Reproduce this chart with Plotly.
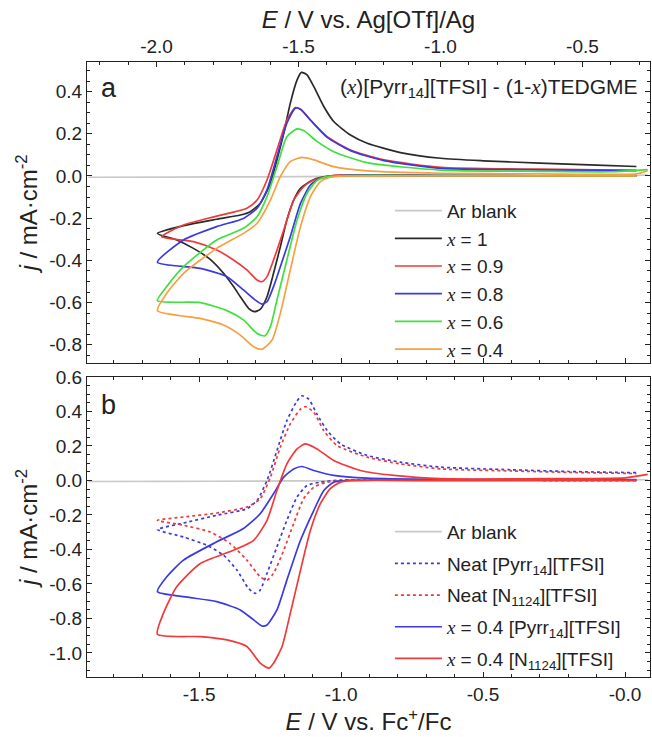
import plotly.graph_objects as go

# ---------------- data (E vs Fc+/Fc in V, j in mA cm^-2) ----------------
# Panel a: (x)[Pyrr14][TFSI] - (1-x)TEDGME
E_blank = [-1.89, -1.60, -1.30, -1.00, -0.70, -0.40, -0.10, 0.08]
j_blank = [-0.006, -0.005, -0.004, -0.002, -0.001, 0.000, 0.002, 0.004]

E_x10 = [0.04, -0.30, -0.649, -1.026, -1.085, -1.120, -1.143, -1.167, -1.191, -1.214, -1.238,
         -1.261, -1.285, -1.305, -1.326, -1.355, -1.379, -1.414, -1.461, -1.520, -1.579, -1.647,
         -1.555, -1.438, -1.355, -1.320, -1.285, -1.249, -1.226, -1.202, -1.179, -1.155, -1.140,
         -1.120, -1.096, -1.061, -1.026, -0.967, -0.908, -0.791, -0.649, -0.50, -0.30, -0.10, 0.04]
j_x10 = [0.0, 0.001, 0.002, 0.002, -0.011, -0.035, -0.058, -0.114, -0.209, -0.335, -0.461,
         -0.572, -0.632, -0.643, -0.627, -0.572, -0.524, -0.461, -0.395, -0.343, -0.303, -0.272,
         -0.235, -0.205, -0.185, -0.169, -0.130, -0.035, 0.076, 0.202, 0.344, 0.455, 0.491,
         0.479, 0.423, 0.329, 0.258, 0.194, 0.155, 0.111, 0.084, 0.072, 0.061, 0.051, 0.045]

E_x09 = [0.04, -0.30, -0.649, -1.026, -1.096, -1.132, -1.167, -1.202, -1.238, -1.261, -1.279,
         -1.296, -1.332, -1.379, -1.438, -1.520, -1.632,
         -1.555, -1.438, -1.332, -1.296, -1.261, -1.226, -1.191, -1.161, -1.143, -1.108, -1.049,
         -0.967, -0.849, -0.649, -0.30, 0.04]
j_x09 = [0.0, 0.001, 0.002, 0.002, -0.019, -0.051, -0.114, -0.256, -0.398, -0.477, -0.501,
         -0.493, -0.445, -0.398, -0.351, -0.311, -0.288,
         -0.232, -0.190, -0.153, -0.114, -0.019, 0.123, 0.265, 0.324, 0.316, 0.265, 0.186,
         0.123, 0.076, 0.041, 0.032, 0.027]

E_x08 = [0.04, -0.30, -0.649, -1.002, -1.073, -1.108, -1.143, -1.179, -1.214, -1.238, -1.261,
         -1.279, -1.302, -1.344, -1.402, -1.496, -1.647,
         -1.555, -1.438, -1.344, -1.296, -1.261, -1.226, -1.191, -1.161, -1.143, -1.108, -1.049,
         -0.967, -0.849, -0.649, -0.30, 0.04]
j_x08 = [0.0, 0.001, 0.002, 0.002, -0.011, -0.043, -0.130, -0.288, -0.430, -0.524, -0.596,
         -0.607, -0.588, -0.540, -0.477, -0.438, -0.409,
         -0.303, -0.240, -0.201, -0.153, -0.066, 0.092, 0.250, 0.321, 0.316, 0.265, 0.183,
         0.120, 0.073, 0.036, 0.029, 0.025]

E_x06 = [0.04, -0.30, -0.649, -0.979, -1.049, -1.085, -1.120, -1.155, -1.191, -1.226, -1.249,
         -1.269, -1.296, -1.344, -1.402, -1.496, -1.647,
         -1.614, -1.555, -1.438, -1.344, -1.296, -1.261, -1.226, -1.191, -1.155, -1.132, -1.085,
         -1.026, -0.908, -0.649, -0.30, -0.05, 0.08]
j_x06 = [0.0, 0.001, 0.002, 0.002, -0.003, -0.022, -0.082, -0.209, -0.398, -0.588, -0.714,
         -0.758, -0.746, -0.682, -0.638, -0.600, -0.591,
         -0.524, -0.430, -0.303, -0.248, -0.193, -0.098, 0.044, 0.186, 0.223, 0.215, 0.164,
         0.115, 0.063, 0.028, 0.022, 0.020, 0.030]

E_x04 = [0.04, -0.30, -0.649, -0.979, -1.038, -1.073, -1.108, -1.143, -1.179, -1.214, -1.243,
         -1.279, -1.308, -1.355, -1.414, -1.496, -1.647,
         -1.614, -1.555, -1.438, -1.344, -1.296, -1.249, -1.214, -1.179, -1.138, -1.096, -1.026,
         -0.908, -0.649, -0.30, 0.04, 0.08]
j_x04 = [0.0, 0.0, 0.0, 0.0, -0.006, -0.027, -0.098, -0.240, -0.445, -0.651, -0.777,
         -0.821, -0.809, -0.754, -0.706, -0.675, -0.638,
         -0.556, -0.461, -0.343, -0.272, -0.224, -0.114, -0.003, 0.068, 0.088, 0.076, 0.044,
         0.024, 0.013, 0.010, 0.010, 0.025]

# Panel b: neat ILs and x = 0.4 mixtures
E_neat_pyr = [0.04, -0.30, -0.649, -1.002, -1.073, -1.120, -1.155, -1.191, -1.226, -1.261, -1.285,
              -1.302, -1.326, -1.367, -1.414, -1.473, -1.555, -1.647,
              -1.555, -1.438, -1.332, -1.296, -1.261, -1.226, -1.191, -1.155, -1.138, -1.114,
              -1.085, -1.049, -1.002, -0.908, -0.791, -0.649, -0.40, -0.20, 0.04]
j_neat_pyr = [0.0, 0.001, 0.002, 0.002, -0.010, -0.029, -0.096, -0.231, -0.385, -0.539, -0.636,
              -0.655, -0.626, -0.520, -0.434, -0.376, -0.328, -0.285,
              -0.247, -0.202, -0.164, -0.116, 0.0, 0.173, 0.347, 0.462, 0.491, 0.472,
              0.385, 0.289, 0.212, 0.145, 0.106, 0.077, 0.062, 0.052, 0.045]

E_neat_n = [0.04, -0.30, -0.649, -0.979, -1.049, -1.096, -1.132, -1.167, -1.202, -1.238, -1.261,
            -1.285, -1.332, -1.391, -1.461, -1.555, -1.647,
            -1.555, -1.438, -1.332, -1.285, -1.249, -1.214, -1.179, -1.143, -1.126, -1.096,
            -1.061, -1.014, -0.908, -0.791, -0.649, -0.40, -0.20, 0.04]
j_neat_n = [0.0, 0.001, 0.002, 0.002, -0.010, -0.039, -0.106, -0.250, -0.405, -0.539, -0.578,
            -0.559, -0.462, -0.366, -0.299, -0.260, -0.231,
            -0.212, -0.189, -0.154, -0.106, 0.019, 0.193, 0.328, 0.414, 0.428, 0.395,
            0.289, 0.202, 0.135, 0.096, 0.067, 0.055, 0.047, 0.040]

E_mix_pyr = [0.04, -0.30, -0.649, -0.979, -1.026, -1.061, -1.096, -1.143, -1.191, -1.226, -1.261,
             -1.279, -1.308, -1.355, -1.438, -1.555, -1.647,
             -1.614, -1.555, -1.438, -1.344, -1.285, -1.238, -1.202, -1.167, -1.138, -1.096,
             -1.026, -0.908, -0.649, -0.30, 0.04]
j_mix_pyr = [0.0, 0.0, 0.0, 0.0, -0.010, -0.058, -0.173, -0.347, -0.578, -0.751, -0.838,
             -0.844, -0.809, -0.751, -0.703, -0.674, -0.645,
             -0.559, -0.462, -0.356, -0.279, -0.193, -0.077, 0.019, 0.067, 0.081, 0.058,
             0.029, 0.013, 0.006, 0.005, 0.005]

E_mix_n = [0.04, -0.30, -0.649, -0.955, -1.002, -1.038, -1.073, -1.108, -1.143, -1.179, -1.208,
           -1.238, -1.255, -1.285, -1.332, -1.402, -1.496, -1.647,
           -1.626, -1.579, -1.496, -1.379, -1.308, -1.261, -1.226, -1.191, -1.155, -1.126,
           -1.085, -1.026, -0.932, -0.814, -0.649, -0.30, 0.0, 0.08]
j_mix_n = [0.0, 0.0, 0.0, 0.0, -0.010, -0.048, -0.135, -0.289, -0.520, -0.771, -0.963,
           -1.060, -1.089, -1.060, -0.963, -0.925, -0.906, -0.892,
           -0.771, -0.617, -0.482, -0.405, -0.347, -0.231, -0.058, 0.096, 0.183, 0.212,
           0.183, 0.116, 0.058, 0.029, 0.010, 0.010, 0.015, 0.035]

# tick labels
x_bot_vals = [-1.5, -1.0, -0.5, 0.0]
x_bot_text = ["-1.5", "-1.0", "-0.5", "-0.0"]
x_top_vals = [-2.0, -1.5, -1.0, -0.5]
x_top_text = ["-2.0", "-1.5", "-1.0", "-0.5"]
y_a_vals = [0.4, 0.2, 0.0, -0.2, -0.4, -0.6, -0.8]
y_a_text = ["0.4", "0.2", "0.0", "-0.2", "-0.4", "-0.6", "-0.8"]
y_b_vals = [0.6, 0.4, 0.2, 0.0, -0.2, -0.4, -0.6, -0.8, -1.0]
y_b_text = ["0.6", "0.4", "0.2", "0.0", "-0.2", "-0.4", "-0.6", "-0.8", "-1.0"]

REF_OFFSET = -0.35  # Ag[OTf]/Ag scale relative to Fc+/Fc
X_RANGE = [-1.895, 0.088]

# ---------------- styling ----------------
FONT = "Arial, Liberation Sans, sans-serif"
C_BLANK = "#c9c9c9"
C_BLACK = "#2a2a2a"
C_RED = "#f03a3a"
C_BLUE = "#3a3ae0"
C_GREEN = "#3ee03e"
C_ORANGE = "#f7a040"
XI = '<span style="font-family:Liberation Serif;font-style:italic">x</span>'

fig = go.Figure()


def add(E, j, name, color, dash, xa, ya, leg):
    fig.add_trace(go.Scatter(
        x=E, y=j, mode="lines", name=name, legend=leg, legendgroup=leg + name,
        xaxis=xa, yaxis=ya,
        line=dict(color=color, width=1.7, dash=dash, shape="spline", smoothing=0.6),
        hoverinfo="skip"))


add(E_blank, j_blank, "Ar blank", C_BLANK, "solid", "x", "y", "legend")
add(E_x10, j_x10, f"{XI} = 1", C_BLACK, "solid", "x", "y", "legend")
add(E_x09, j_x09, f"{XI} = 0.9", C_RED, "solid", "x", "y", "legend")
add(E_x08, j_x08, f"{XI} = 0.8", C_BLUE, "solid", "x", "y", "legend")
add(E_x06, j_x06, f"{XI} = 0.6", C_GREEN, "solid", "x", "y", "legend")
add(E_x04, j_x04, f"{XI} = 0.4", C_ORANGE, "solid", "x", "y", "legend")

add(E_blank, j_blank, "Ar blank", C_BLANK, "solid", "x2", "y2", "legend2")
add(E_neat_pyr, j_neat_pyr, "Neat [Pyrr<sub>14</sub>][TFSI]", C_BLUE, "dot", "x2", "y2", "legend2")
add(E_neat_n, j_neat_n, "Neat [N<sub>1124</sub>][TFSI]", C_RED, "dot", "x2", "y2", "legend2")
add(E_mix_pyr, j_mix_pyr, f"{XI} = 0.4 [Pyrr<sub>14</sub>][TFSI]", C_BLUE, "solid", "x2", "y2", "legend2")
add(E_mix_n, j_mix_n, f"{XI} = 0.4 [N<sub>1124</sub>][TFSI]", C_RED, "solid", "x2", "y2", "legend2")

# empty trace so that the secondary (top) potential scale is drawn
fig.add_trace(go.Scatter(x=[None], y=[None], xaxis="x3", yaxis="y", mode="lines",
                         showlegend=False, hoverinfo="skip"))

axis_common = dict(showline=True, linecolor="#222", linewidth=1.3, ticks="inside",
                   ticklen=5, tickwidth=1.2, tickcolor="#222", showgrid=False,
                   zeroline=False, automargin=False,
                   tickfont=dict(family=FONT, size=19, color="#222"))
minor_x = dict(ticks="inside", ticklen=3, tickwidth=1, tickcolor="#222",
               tickmode="linear", tick0=0, dtick=0.1, showgrid=False)
minor_y = dict(ticks="inside", ticklen=3, tickwidth=1, tickcolor="#222",
               tickmode="linear", tick0=0, dtick=0.05, showgrid=False)
title_font = dict(family=FONT, size=24, color="#222")
LEG_FONT = dict(family=FONT, size=19, color="#222")

fig.update_layout(
    width=652, height=737,
    margin=dict(l=87, r=2, t=62, b=60),
    paper_bgcolor="white", plot_bgcolor="white",
    font=dict(family=FONT, size=19, color="#222"),
    xaxis=dict(domain=[0, 1], anchor="y", range=X_RANGE, tickmode="array",
               tickvals=x_bot_vals, showticklabels=False, minor=minor_x, **axis_common),
    xaxis3=dict(overlaying="x", side="top", anchor="y",
                range=[X_RANGE[0] + REF_OFFSET, X_RANGE[1] + REF_OFFSET],
                tickmode="array", tickvals=x_top_vals, ticktext=x_top_text,
                minor=minor_x, title=dict(text="<i>E</i> / V vs. Ag[OTf]/Ag",
                                          font=title_font, standoff=0),
                **axis_common),
    yaxis=dict(domain=[0.5106, 1], anchor="x", range=[-0.886, 0.54], tickmode="array",
               tickvals=y_a_vals, ticktext=y_a_text, mirror="ticks", minor=minor_y,
               title=dict(text="<i>j</i> / mA·cm<sup>-2</sup>", font=title_font, standoff=4),
               **axis_common),
    xaxis2=dict(domain=[0, 1], anchor="y2", range=X_RANGE, tickmode="array",
                tickvals=x_bot_vals, ticktext=x_bot_text, mirror="ticks", minor=minor_x,
                title=dict(text="<i>E</i> / V vs. Fc<sup>+</sup>/Fc", font=title_font,
                           standoff=2),
                **axis_common),
    yaxis2=dict(domain=[0, 0.4878], anchor="x2", range=[-1.14, 0.6], tickmode="array",
                tickvals=y_b_vals, ticktext=y_b_text, mirror="ticks", minor=minor_y,
                title=dict(text="<i>j</i> / mA·cm<sup>-2</sup>", font=title_font, standoff=4),
                **axis_common),
    legend=dict(x=0.538, y=0.789, xanchor="left", yanchor="top", bgcolor="rgba(0,0,0,0)",
                font=LEG_FONT, itemwidth=47, tracegroupgap=0),
    legend2=dict(x=0.538, y=0.267, xanchor="left", yanchor="top", bgcolor="rgba(0,0,0,0)",
                 font=LEG_FONT, itemwidth=47, tracegroupgap=4),
    showlegend=True,
    annotations=[
        dict(text="a", x=0.022, y=0.958, xref="paper", yref="paper", xanchor="left",
             yanchor="middle", showarrow=False, font=dict(family=FONT, size=27, color="#222")),
        dict(text="b", x=0.022, y=0.442, xref="paper", yref="paper", xanchor="left",
             yanchor="middle", showarrow=False, font=dict(family=FONT, size=27, color="#222")),
        dict(text=f"({XI})[Pyrr<sub>14</sub>][TFSI] - (1-{XI})TEDGME", x=0.446, y=0.958,
             xref="paper", yref="paper", xanchor="left", yanchor="middle", showarrow=False,
             font=dict(family=FONT, size=21, color="#222")),
    ],
)

# remove the browser's default 8px page margin so the figure sits at the page origin
fig.write_html("out.html", config={"displayModeBar": False},
               post_script="document.body.style.margin='0';")
